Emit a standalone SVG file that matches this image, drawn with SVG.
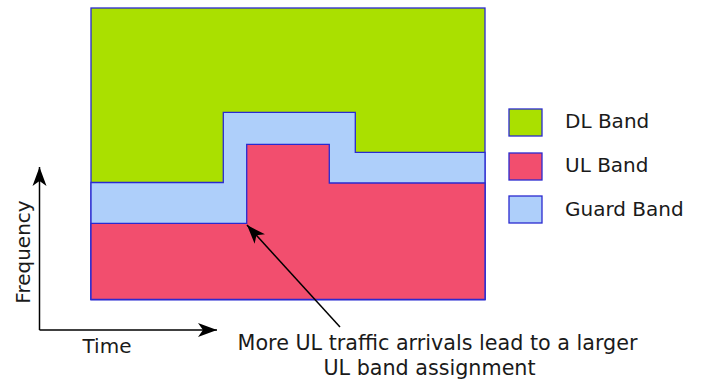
<svg xmlns="http://www.w3.org/2000/svg" width="706" height="383" viewBox="0 0 706 383">
<style>
text{font-family:"DejaVu Sans","Verdana",sans-serif;font-size:20px;fill:#1a1a1a}
.big{font-size:20.7px}
.band{stroke:#2a2ad0;stroke-width:1.3}
.dl{fill:#aae000}
.ul{fill:#f24e6e}
.gd{fill:#aecffa}
.conn{stroke:#000;stroke-width:1.5;fill:none}
</style>
<defs>
<marker id="arrow" viewBox="-21 -8 22 16" refX="0" refY="0" markerWidth="22" markerHeight="16" markerUnits="userSpaceOnUse" orient="auto">
<path d="M0,0 L-19,-7 L-14,0 L-19,7 Z" fill="#000"/>
</marker>
</defs>
<g id="dl-band">
<rect class="band dl" x="91" y="8" width="394" height="291.5"/>
</g>
<g id="guard-band">
<path class="band gd" d="M91,182.5 H223.3 V112.3 H355.3 V152.3 H485 V299.5 H91 Z"/>
</g>
<g id="ul-band">
<path class="band ul" d="M91,223.3 H246.7 V144.3 H329.3 V183 H485 V299.5 H91 Z"/>
</g>
<g id="connectors">
<line class="conn" x1="39.5" y1="330" x2="39.5" y2="167" marker-end="url(#arrow)"/>
<line class="conn" x1="39.5" y1="330" x2="217" y2="330" marker-end="url(#arrow)"/>
<line class="conn" x1="340" y1="327" x2="247" y2="225" marker-end="url(#arrow)"/>
</g>
<g id="axis-labels">
<text x="82.5" y="353">Time</text>
<text transform="translate(29.5,252) rotate(-90)" text-anchor="middle">Frequency</text>
</g>
<g id="annotation">
<text class="big" x="437.5" y="350" text-anchor="middle">More UL traffic arrivals lead to a larger</text>
<text class="big" x="429.5" y="375" text-anchor="middle">UL band assignment</text>
</g>
<g id="legend-dl">
<rect class="band dl" x="509" y="109" width="33" height="27"/>
<text x="565" y="127.5">DL Band</text>
</g>
<g id="legend-ul">
<rect class="band ul" x="509" y="153" width="33" height="27"/>
<text x="565" y="171.5">UL Band</text>
</g>
<g id="legend-guard">
<rect class="band gd" x="509" y="196" width="33" height="27"/>
<text x="565" y="216">Guard Band</text>
</g>
</svg>
